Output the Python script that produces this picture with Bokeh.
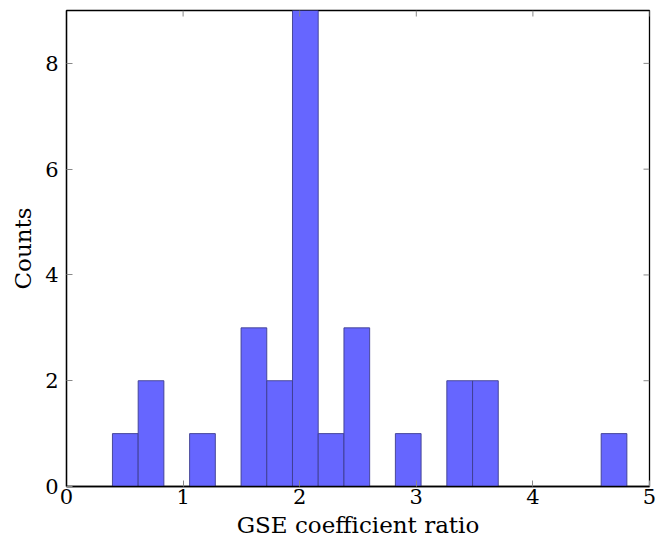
import math
from bokeh.plotting import figure
from bokeh.models import FixedTicker, Range1d
from bokeh.embed import file_html
from bokeh.resources import INLINE

# Histogram data (20 equal bins)
bin_start = 0.394
bin_width = 0.2206
counts = [1, 2, 0, 1, 0, 3, 2, 9, 1, 3, 0, 1, 0, 2, 2, 0, 0, 0, 0, 1]
x_ticks = [0, 1, 2, 3, 4, 5]
y_ticks = [0, 2, 4, 6, 8]
x_label = "GSE coefficient ratio"
y_label = "Counts"
x_min, x_max = 0, 5
y_min, y_max = 0, 9

lefts = [bin_start + i * bin_width for i in range(len(counts))]
rights = [l + bin_width for l in lefts]
nz = [i for i, c in enumerate(counts) if c > 0]

FONT = "DejaVu Serif"

p = figure(width=656, height=544, output_backend="svg", toolbar_location=None,
           x_range=Range1d(x_min, x_max), y_range=Range1d(y_min, y_max),
           min_border_left=66, min_border_right=7, min_border_top=10, min_border_bottom=58)
p.grid.visible = False
p.outline_line_color = "black"
p.outline_line_width = 1.3

p.quad(left=[lefts[i] for i in nz], right=[rights[i] for i in nz],
       bottom=0, top=[counts[i] for i in nz],
       fill_color="#6666ff", line_color="#3d3d8f", line_width=0.9)

# mirrored ticks on top and right (inward)
p.ray(x=x_ticks, y=[y_max] * len(x_ticks), length=6, length_units="screen",
      angle=-math.pi / 2, line_color="#888888", line_width=1)
p.ray(x=[x_max] * len(y_ticks), y=y_ticks, length=6, length_units="screen",
      angle=math.pi, line_color="#888888", line_width=1)

def style(ax):
    ax.major_tick_in = 6
    ax.major_tick_out = 0
    ax.minor_tick_in = 0
    ax.minor_tick_out = 0
    ax.major_tick_line_color = "#888888"
    ax.major_tick_line_width = 1
    ax.axis_line_color = "black"
    ax.axis_line_width = 1.3
    ax.major_label_text_font = FONT
    ax.major_label_text_font_size = "21px"
    ax.major_label_text_color = "black"
    ax.axis_label_text_font = FONT
    ax.axis_label_text_font_size = "23px"
    ax.axis_label_text_font_style = "normal"
    ax.axis_label_text_color = "black"

xa = p.xaxis[0]
xa.ticker = FixedTicker(ticks=x_ticks)
xa.axis_label = x_label
xa.major_label_standoff = 2
xa.axis_label_standoff = 5
style(xa)

ya = p.yaxis[0]
ya.ticker = FixedTicker(ticks=y_ticks)
ya.axis_label = y_label
ya.major_label_standoff = 8
ya.axis_label_standoff = 6
style(ya)

open("out.html", "w").write(file_html(p, INLINE))
